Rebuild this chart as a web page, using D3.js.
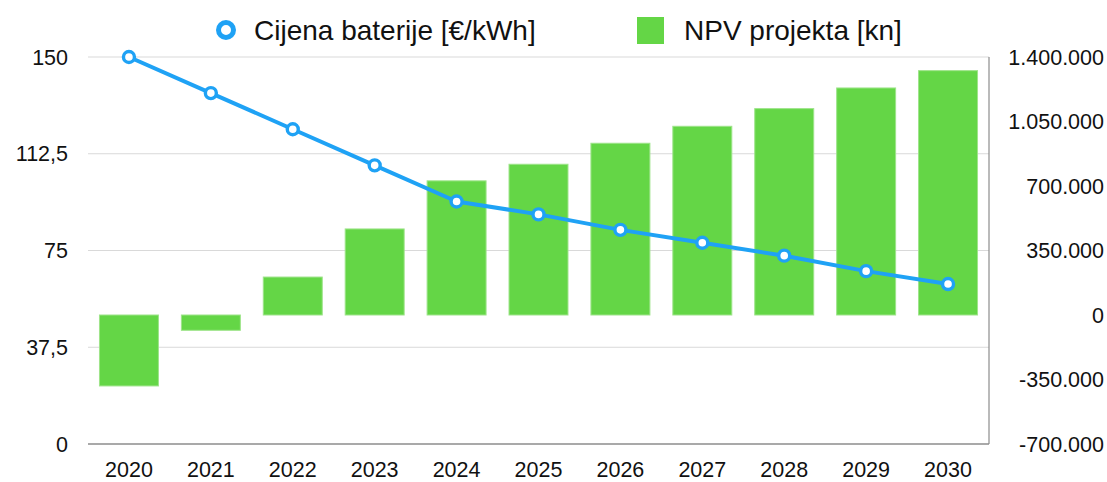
<!DOCTYPE html>
<html>
<head>
<meta charset="utf-8">
<script src="https://cdn.jsdelivr.net/npm/d3@7"></script>
<style>
  body { margin: 0; background: #fff; }
  text { font-family: "Liberation Sans", Arial, sans-serif; fill: #111; }
</style>
</head>
<body>
<div id="chart"></div>
<script>
// data
const years = ["2020", "2021", "2022", "2023", "2024", "2025", "2026", "2027", "2028", "2029", "2030"];
const batteryPrice = [150, 136, 122, 108, 94, 89, 83, 78, 73, 67, 62];
const projectNpv = [-385000, -83000, 206000, 467000, 728000, 818000, 932000, 1024000, 1120000, 1232000, 1326000];
const leftTicks = [0, 37.5, 75, 112.5, 150];
const rightTicks = [-700000, -350000, 0, 350000, 700000, 1050000, 1400000];
const lineLabel = "Cijena baterije [€/kWh]";
const barLabel = "NPV projekta [kn]";

const width = 1107, height = 482;
const margin = {top: 57, right: 118, bottom: 38, left: 88};

// croatian number format: comma decimals, dot thousands, plain hyphen minus
const hr = d3.formatLocale({decimal: ",", thousands: ".", grouping: [3], currency: ["", " kn"], minus: "-"});
const fmt = hr.format(",");

const svg = d3.select("#chart")
  .append("svg")
  .attr("width", width)
  .attr("height", height);

const x = d3.scaleBand()
  .domain(years)
  .range([margin.left, width - margin.right])
  .paddingInner(0.28)
  .paddingOuter(0.14);

const yLeft = d3.scaleLinear()
  .domain([0, 150])
  .range([height - margin.bottom, margin.top]);

const yRight = d3.scaleLinear()
  .domain([-700000, 1400000])
  .range([height - margin.bottom, margin.top]);

// gridlines
svg.append("g")
  .selectAll("line")
  .data(leftTicks.filter(d => d !== 0))
  .join("line")
  .attr("x1", margin.left)
  .attr("x2", width - margin.right)
  .attr("y1", d => yLeft(d))
  .attr("y2", d => yLeft(d))
  .attr("stroke", "#d9d9d9")
  .attr("stroke-width", 1);

// bars
svg.append("g")
  .selectAll("rect")
  .data(years)
  .join("rect")
  .attr("x", d => x(d))
  .attr("width", x.bandwidth())
  .attr("y", (d, i) => yRight(Math.max(0, projectNpv[i])))
  .attr("height", (d, i) => Math.abs(yRight(projectNpv[i]) - yRight(0)))
  .attr("fill", "#64d646")
  .attr("stroke", "#9ee48a")
  .attr("stroke-width", 1);

// frame: bottom axis + right side
svg.append("line")
  .attr("x1", margin.left).attr("x2", width - margin.right)
  .attr("y1", yLeft(0)).attr("y2", yLeft(0))
  .attr("stroke", "#8c8c8c").attr("stroke-width", 1.5);
svg.append("line")
  .attr("x1", width - margin.right).attr("x2", width - margin.right)
  .attr("y1", yLeft(150)).attr("y2", yLeft(0))
  .attr("stroke", "#8c8c8c").attr("stroke-width", 1.2);

// line series
const line = d3.line()
  .x((d, i) => x(years[i]) + x.bandwidth() / 2)
  .y(d => yLeft(d));

svg.append("path")
  .datum(batteryPrice)
  .attr("d", line)
  .attr("fill", "none")
  .attr("stroke", "#1fa2f5")
  .attr("stroke-width", 4)
  .attr("stroke-linejoin", "round");

svg.append("g")
  .selectAll("circle")
  .data(batteryPrice)
  .join("circle")
  .attr("cx", (d, i) => x(years[i]) + x.bandwidth() / 2)
  .attr("cy", d => yLeft(d))
  .attr("r", 5.5)
  .attr("fill", "#fff")
  .attr("stroke", "#1fa2f5")
  .attr("stroke-width", 3.4);

// left axis labels
svg.append("g")
  .selectAll("text")
  .data(leftTicks)
  .join("text")
  .attr("x", margin.left - 20)
  .attr("y", d => yLeft(d))
  .attr("dy", "0.36em")
  .attr("text-anchor", "end")
  .style("font-size", "21.5px")
  .text(fmt);

// right axis labels
svg.append("g")
  .selectAll("text")
  .data(rightTicks)
  .join("text")
  .attr("x", width - 3)
  .attr("y", d => yRight(d))
  .attr("dy", "0.36em")
  .attr("text-anchor", "end")
  .style("font-size", "21.5px")
  .text(fmt);

// x labels
svg.append("g")
  .selectAll("text")
  .data(years)
  .join("text")
  .attr("x", d => x(d) + x.bandwidth() / 2)
  .attr("y", height - 5)
  .attr("text-anchor", "middle")
  .style("font-size", "21.5px")
  .text(d => d);

// legend
const legend = svg.append("g");
legend.append("circle")
  .attr("cx", 226).attr("cy", 30).attr("r", 7.5)
  .attr("fill", "#fff").attr("stroke", "#1fa2f5").attr("stroke-width", 5);
legend.append("text")
  .attr("x", 254).attr("y", 40)
  .style("font-size", "28px")
  .text(lineLabel);
legend.append("rect")
  .attr("x", 637).attr("y", 17).attr("width", 27).attr("height", 27)
  .attr("fill", "#64d646");
legend.append("text")
  .attr("x", 684).attr("y", 40)
  .style("font-size", "28px")
  .text(barLabel);
</script>
</body>
</html>
